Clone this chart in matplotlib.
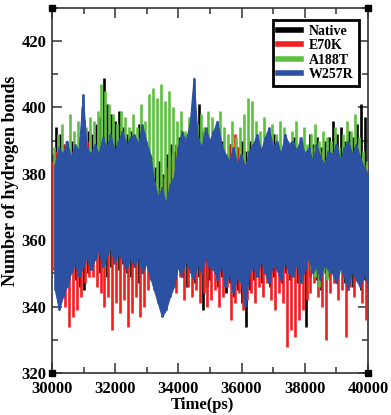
import numpy as np
import matplotlib
matplotlib.use("Agg")
import matplotlib.pyplot as plt
from matplotlib.lines import Line2D
from matplotlib.ticker import MultipleLocator

# peaks (hi) and troughs (lo) per 125 ps window
native_hi = [386, 394, 392, 389, 387, 390, 388, 391, 396, 393,
             392, 395, 397, 409, 401, 398, 396, 399, 394, 392,
             393, 390, 395, 391, 388, 385, 382, 384, 380, 386,
             389, 387, 391, 388, 392, 390, 399, 401, 393, 390,
             388, 391, 387, 390, 386, 389, 385, 388, 390, 387,
             390, 387, 389, 386, 391, 388, 392, 389, 387, 390,
             389, 391, 388, 390, 387, 392, 389, 391, 388, 390,
             391, 396, 392, 394, 390, 393, 391, 395, 401, 397]
native_lo = [352, 349, 351, 354, 350, 353, 348, 346, 345, 350,
             351, 354, 350, 353, 349, 352, 355, 351, 353, 350,
             349, 352, 347, 350, 353, 348, 345, 343, 347, 350,
             351, 348, 352, 349, 346, 350, 347, 349, 339, 346,
             348, 351, 346, 349, 344, 347, 343, 345, 341, 334,
             345, 348, 351, 347, 350, 346, 349, 352, 347, 350,
             348, 351, 347, 350, 334, 349, 352, 348, 345, 350,
             349, 352, 348, 351, 347, 350, 346, 349, 345, 348]

e70k_hi = [384, 387, 385, 389, 386, 383, 388, 386, 393, 390,
           387, 385, 389, 386, 384, 388, 385, 387, 383, 386,
           385, 388, 384, 386, 383, 380, 378, 376, 379, 382,
           386, 389, 385, 387, 391, 386, 388, 384, 387, 385,
           388, 386, 390, 387, 385, 389, 392, 388, 386, 384,
           387, 385, 388, 384, 386, 389, 385, 387, 383, 386,
           385, 388, 384, 387, 383, 386, 388, 385, 387, 384,
           386, 383, 387, 385, 388, 384, 386, 389, 385, 383]
e70k_lo = [351, 347, 344, 340, 334, 337, 339, 343, 347, 349,
           349, 346, 344, 340, 343, 333, 341, 338, 342, 334,
           338, 343, 337, 340, 345, 348, 350, 347, 351, 349,
           347, 344, 349, 342, 346, 343, 345, 341, 344, 340,
           342, 345, 340, 343, 346, 336, 341, 344, 339, 342,
           344, 341, 346, 343, 347, 342, 339, 344, 341, 328,
           333, 331, 336, 339, 342, 344, 347, 343, 340, 330,
           344, 347, 342, 345, 331, 346, 343, 348, 341, 336]

a188t_hi = [388, 392, 395, 390, 398, 393, 396, 400, 394, 397,
            396, 399, 407, 405, 401, 398, 395, 399, 397, 394,
            398, 394, 401, 396, 404, 406, 403, 407, 402, 405,
            400, 396, 399, 393, 397, 401, 395, 398, 394, 399,
            397, 395, 399, 394, 392, 396, 391, 394, 398, 403,
            402, 396, 393, 397, 391, 395, 392, 396, 394, 390,
            393, 396, 391, 394, 389, 392, 395, 390, 393, 391,
            390, 394, 388, 392, 396, 393, 398, 391, 387, 384]
a188t_lo = [352, 346, 344, 349, 353, 356, 350, 354, 357, 355,
            358, 360, 356, 361, 357, 359, 362, 358, 356, 360,
            357, 361, 355, 359, 362, 368, 366, 369, 365, 370,
            360, 357, 362, 358, 355, 359, 361, 356, 358, 357,
            352, 349, 354, 357, 355, 358, 353, 351, 354, 356,
            353, 357, 354, 351, 356, 352, 355, 358, 353, 350,
            356, 353, 355, 358, 354, 351, 349, 346, 350, 348,
            352, 355, 350, 356, 353, 358, 354, 357, 355, 352]

w257r_hi = [383, 388, 386, 390, 385, 389, 387, 404, 388, 386,
            389, 386, 391, 388, 392, 387, 390, 393, 389, 391,
            392, 389, 395, 390, 386, 378, 373, 376, 371, 377,
            379, 388, 393, 390, 395, 409, 391, 388, 394, 390,
            393, 396, 389, 386, 384, 388, 383, 386, 382, 387,
            389, 392, 387, 391, 394, 388, 390, 386, 392, 389,
            390, 387, 391, 386, 388, 384, 389, 385, 383, 387,
            386, 389, 384, 388, 390, 386, 389, 385, 382, 380]
w257r_lo = [345, 339, 343, 346, 350, 353, 349, 352, 355, 351,
            354, 357, 352, 355, 358, 353, 356, 354, 351, 355,
            352, 355, 350, 353, 349, 345, 341, 337, 339, 343,
            346, 352, 349, 354, 351, 348, 353, 350, 355, 352,
            351, 348, 353, 346, 350, 344, 349, 347, 340, 350,
            352, 349, 354, 350, 347, 353, 351, 348, 354, 350,
            349, 353, 347, 351, 355, 350, 352, 348, 353, 351,
            350, 347, 352, 349, 345, 351, 348, 346, 350, 347]

labels = ["Native", "E70K", "A188T", "W257R"]
colors = ["#000000", "#ee2020", "#5ec040", "#2c50a2"]

series = [(native_hi, native_lo), (e70k_hi, e70k_lo),
          (a188t_hi, a188t_lo), (w257r_hi, w257r_lo)]
# the four runs are sampled on slightly staggered frames
frame_start = [30000, 30031, 30062, 30094]
frame_end = [39906, 39937, 39968, 40000]

plt.rcParams["font.family"] = ["Liberation Serif", "DejaVu Serif"]
plt.rcParams["font.weight"] = "bold"

fig = plt.figure(figsize=(3.91, 4.15), dpi=100)
ax = fig.add_axes([0.133, 0.101, 0.808, 0.880])

for i, ((hi, lo), c, t0, t1) in enumerate(zip(series, colors, frame_start,
                                              frame_end)):
    t = np.linspace(t0, t1, len(hi))
    if labels[i] == "W257R":
        ax.fill_between(t, lo, hi, color=c, lw=0.8, edgecolor=c,
                        zorder=2 + i)
    ax.vlines(t, lo, hi, color=c, lw=1.9, zorder=2 + i)

ax.set_xlim(30000, 40000)
ax.set_ylim(320, 430)
ax.xaxis.set_major_locator(MultipleLocator(2000))
ax.xaxis.set_minor_locator(MultipleLocator(1000))
ax.yaxis.set_major_locator(MultipleLocator(20))
ax.yaxis.set_minor_locator(MultipleLocator(10))
ax.tick_params(which="both", direction="in", top=True, right=True,
               labelsize=12, colors="#333333", labelcolor="black")
ax.tick_params(which="major", length=7, width=1.1, pad=4)
ax.tick_params(axis="x", which="major", pad=6)
ax.tick_params(which="minor", length=4, width=1.1)
for s in ax.spines.values():
    s.set_linewidth(1.2)
    s.set_color("#333333")

# little squares at the corners of the frame
ax.plot([30000, 40000, 30000, 40000], [320, 320, 430, 430], "s",
        color="black", ms=5, clip_on=False, zorder=8)

ax.set_xlabel("Time(ps)", fontsize=12, fontweight="bold")
ax.set_ylabel("Number of hydrogen bonds", fontsize=13, fontweight="bold")
ax.xaxis.set_label_coords(0.475, -0.066)
ax.yaxis.set_label_coords(-0.105, 0.527)

handles = [Line2D([], [], color=c, lw=4) for c in colors]
leg = ax.legend(handles, labels, loc="upper right",
                bbox_to_anchor=(0.971, 0.967), borderaxespad=0,
                fontsize=10, handlelength=1.65, handletextpad=0.6,
                labelspacing=0.1, borderpad=0.35, fancybox=False,
                framealpha=1)
leg.set_zorder(10)
leg.get_frame().set_edgecolor("black")
leg.get_frame().set_linewidth(2)

fig.savefig("out.png", dpi=100)
